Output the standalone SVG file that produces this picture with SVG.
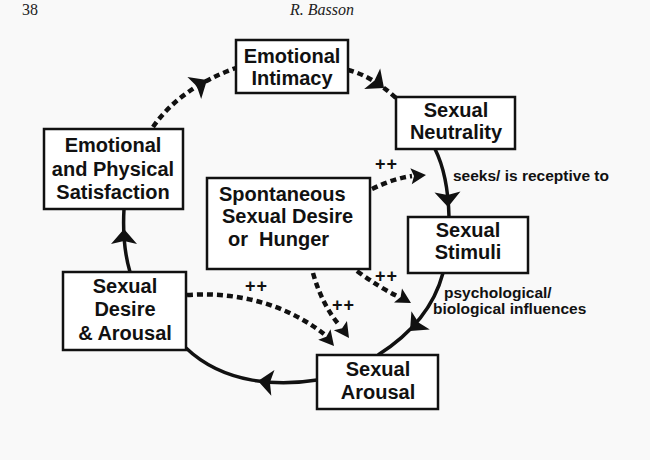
<svg xmlns="http://www.w3.org/2000/svg" xmlns:xlink="http://www.w3.org/1999/xlink" width="650" height="460" viewBox="0 0 650 460">
<style>
.box{fill:#ffffff;stroke:#111;stroke-width:2.5}
.t{font-family:"Liberation Sans",Arial,sans-serif;font-weight:bold;font-size:20px;fill:#111;text-anchor:middle}
.tl{font-family:"Liberation Sans",Arial,sans-serif;font-weight:bold;font-size:20px;fill:#111}
.lab{font-family:"Liberation Sans",Arial,sans-serif;font-weight:bold;font-size:15.5px;fill:#111}
.pp{font-family:"Liberation Sans",Arial,sans-serif;font-weight:bold;font-size:18px;fill:#111;letter-spacing:1px}
.hdr{font-family:"Liberation Serif","Times New Roman",serif;font-size:16px;fill:#222}
.solid{fill:none;stroke:#111;stroke-width:3.5}
.dash{fill:none;stroke:#111;stroke-width:4.5;stroke-dasharray:6 4}
.ah{fill:#111}
</style>
<defs>
<path id="ahL" d="M0,0 L-15,-13 L-12,0 L-15,13 Z"/>
<path id="ahS" d="M0,0 L-15,-8 L-12,0 L-15,8 Z"/>
</defs>
<rect width="650" height="460" fill="#f9f9f9"/>
<text class="hdr" x="22" y="15">38</text>
<text class="hdr" x="322" y="15" text-anchor="middle" font-style="italic">R. Basson</text>

<g id="connectors">
<path class="dash" d="M153,127 Q180,88 236,68"/>
<use href="#ahL" class="ah" transform="translate(207,80) rotate(-32)"/>
<path class="dash" d="M348,70 Q372,76 396,98"/>
<use href="#ahL" class="ah" transform="translate(384,88) rotate(38)"/>
<path class="solid" d="M435,149 Q448,175 449,217"/>
<use href="#ahL" class="ah" transform="translate(448,207) rotate(88)"/>
<path class="solid" d="M443,273 Q430,322 378,355"/>
<use href="#ahL" class="ah" transform="translate(410,331) rotate(135)"/>
<path class="solid" d="M317,380 C280,386 225,385 186,348"/>
<use href="#ahL" class="ah" transform="translate(258,381) rotate(187)"/>
<path class="solid" d="M130,272 Q122,245 124,209"/>
<use href="#ahL" class="ah" transform="translate(124,229) rotate(-90)"/>
<path class="dash" d="M372,189 Q395,178 412,176"/>
<use href="#ahS" class="ah" transform="translate(426,175) rotate(-5)"/>
<path class="dash" d="M357,271 Q380,288 399,297"/>
<use href="#ahS" class="ah" transform="translate(411,303) rotate(30)"/>
<path class="dash" d="M313,273 Q322,305 340,326"/>
<use href="#ahS" class="ah" transform="translate(349,338) rotate(55)"/>
<path class="dash" d="M187,295 C230,292 280,300 324,334"/>
<use href="#ahS" class="ah" transform="translate(334,346) rotate(50)"/>
<text class="lab" x="453" y="181">seeks/ is receptive to</text>
<text class="lab" x="444" y="298">psychological/</text>
<text class="lab" x="433" y="314">biological influences</text>
<text class="pp" x="375" y="170">++</text>
<text class="pp" x="375" y="282">++</text>
<text class="pp" x="245" y="292">++</text>
<text class="pp" x="332" y="311">++</text>
</g>

<g id="emotional-intimacy">
<rect class="box" x="236" y="40" width="112" height="53"/>
<text class="t" x="292" y="63">Emotional</text>
<text class="t" x="292" y="85">Intimacy</text>
</g>
<g id="sexual-neutrality">
<rect class="box" x="396" y="97" width="119" height="52"/>
<text class="t" x="456" y="117">Sexual</text>
<text class="t" x="456" y="139">Neutrality</text>
</g>
<g id="satisfaction">
<rect class="box" x="44" y="129" width="139" height="80"/>
<text class="t" x="113" y="152">Emotional</text>
<text class="t" x="113" y="176">and Physical</text>
<text class="t" x="113" y="199">Satisfaction</text>
</g>
<g id="spontaneous">
<rect class="box" x="207" y="178" width="163" height="91"/>
<text class="tl" x="219" y="201">Spontaneous</text>
<text class="tl" x="222" y="223">Sexual Desire</text>
<text class="tl" x="228" y="246" xml:space="preserve">or  Hunger</text>
</g>
<g id="sexual-stimuli">
<rect class="box" x="408" y="217" width="120" height="56"/>
<text class="t" x="468" y="237">Sexual</text>
<text class="t" x="468" y="259">Stimuli</text>
</g>
<g id="desire-arousal">
<rect class="box" x="63" y="272" width="123" height="78"/>
<text class="t" x="125" y="293">Sexual</text>
<text class="t" x="125" y="316">Desire</text>
<text class="t" x="125" y="340">&amp; Arousal</text>
</g>
<g id="sexual-arousal">
<rect class="box" x="317" y="355" width="121" height="54"/>
<text class="t" x="378" y="376">Sexual</text>
<text class="t" x="378" y="399">Arousal</text>
</g>
</svg>
